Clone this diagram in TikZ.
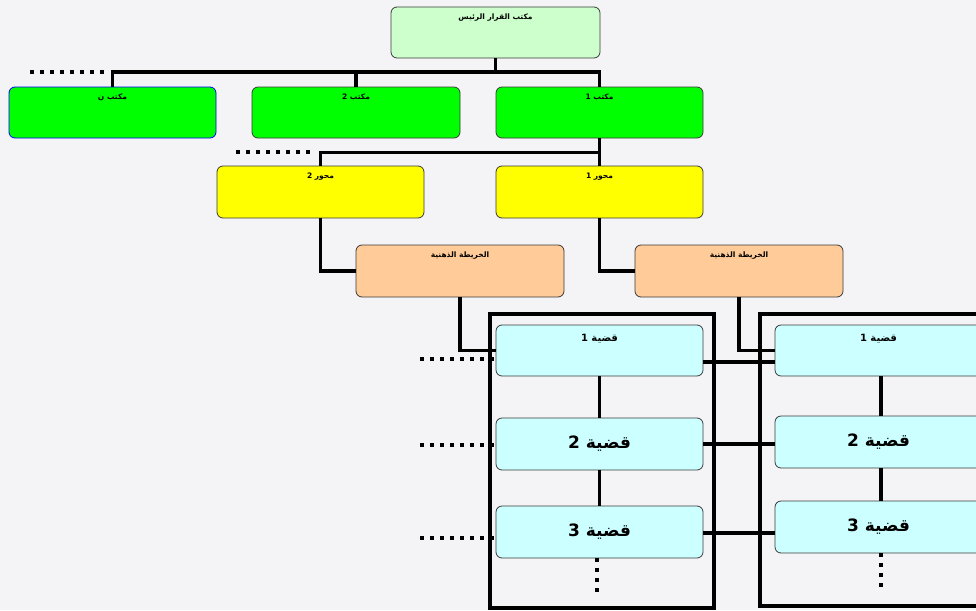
\documentclass[tikz,border=0pt]{standalone}
\usepackage{fontspec}
\newfontfamily\arabicfont[Script=Arabic]{DejaVu Sans}
\TeXXeTstate=1
\usetikzlibrary{calc}
\newcommand{\artext}[1]{{\arabicfont\bfseries #1}}

\definecolor{bg}{HTML}{F4F4F6}
\definecolor{boxline}{HTML}{3A3A3A}
\definecolor{topfill}{HTML}{CCFFCC}
\definecolor{greenfill}{HTML}{00FF00}
\definecolor{yellowfill}{HTML}{FFFF00}
\definecolor{orangefill}{HTML}{FFCC99}
\definecolor{cyanfill}{HTML}{CCFFFF}

\tikzset{
  box/.style={draw=boxline, line width=0.8pt, rounded corners=6pt,
    minimum width=207pt, minimum height=51pt, inner sep=0pt},
  toplabel/.style={anchor=north, yshift=-7pt, inner sep=0pt, font=\fontsize{7.5}{8}\selectfont},
  midlabel/.style={anchor=north, yshift=-9pt, inner sep=0pt, font=\fontsize{10}{12}\selectfont},
  link/.style={line width=3.5pt},
  frame/.style={line width=3.5pt},
  dotline/.style={line width=3.5pt, dash pattern=on 3.5pt off 6.5pt},
  bigtext/.style={font=\fontsize{17}{20}\selectfont}
}

\begin{document}
\begin{tikzpicture}[x=1pt, y=-1pt]
  \fill[bg] (0,0) rectangle (976,610);
  \useasboundingbox (0,0) rectangle (976,610);
  \clip (0,0) rectangle (976,610);

  % outer frames of the two issue columns
  \draw[frame] (490,314) rectangle (714,608);
  \draw[frame] (760,314) rectangle (990,606);

  % head office
  \node[box, fill=topfill, minimum width=209pt] (top) at (495.5,32.5)
    [label={[toplabel]north:\artext{\beginR مكتب القرار الرئيس\endR}}] {};

  % offices
  \node[box, fill=greenfill, draw=blue] (g3) at (112.5,112.5)
    [label={[toplabel]north:\artext{\beginR مكتب ن\endR}}] {};
  \node[box, fill=greenfill, minimum width=208pt] (g2) at (356,112.5)
    [label={[toplabel]north:\artext{\beginR مكتب 2\endR}}] {};
  \node[box, fill=greenfill] (g1) at (599.5,112.5)
    [label={[toplabel]north:\artext{\beginR مكتب 1\endR}}] {};

  % axes
  \node[box, fill=yellowfill, minimum height=52pt] (y2) at (320.5,192)
    [label={[toplabel]north:\artext{\beginR محور 2\endR}}] {};
  \node[box, fill=yellowfill, minimum height=52pt] (y1) at (599.5,192)
    [label={[toplabel]north:\artext{\beginR محور 1\endR}}] {};

  % mind maps
  \node[box, fill=orangefill, minimum width=208pt, minimum height=52pt] (o2) at (460,271)
    [label={[toplabel]north:\artext{\beginR الخريطة الذهنية\endR}}] {};
  \node[box, fill=orangefill, minimum width=208pt, minimum height=52pt] (o1) at (739,271)
    [label={[toplabel]north:\artext{\beginR الخريطة الذهنية\endR}}] {};

  % issues, left column
  \node[box, fill=cyanfill] (c1l) at (599.5,350.5)
    [label={[midlabel]north:\artext{\beginR قضية 1\endR}}] {};
  \node[box, fill=cyanfill, minimum height=52pt, bigtext] (c2l) at (599.5,444) {\artext{\beginR قضية 2\endR}};
  \node[box, fill=cyanfill, minimum height=52pt, bigtext] (c3l) at (599.5,532) {\artext{\beginR قضية 3\endR}};

  % issues, right column
  \node[box, fill=cyanfill] (c1r) at (878.5,350.5)
    [label={[midlabel]north:\artext{\beginR قضية 1\endR}}] {};
  \node[box, fill=cyanfill, minimum height=52pt, bigtext] (c2r) at (878.5,442) {\artext{\beginR قضية 2\endR}};
  \node[box, fill=cyanfill, minimum height=52pt, bigtext] (c3r) at (878.5,527) {\artext{\beginR قضية 3\endR}};

  % head office to offices
  \coordinate (bus) at (495.5,72);
  \draw[link] (top.south) -- (bus);
  \draw[link] (g3.north) -- (g3.north |- bus) -- (g1.north |- bus) -- (g1.north);
  \draw[link] (g2.north) -- (g2.north |- bus);
  \coordinate (busdotA) at (30,72);
  \coordinate (busdotB) at (108,72);
  \draw[dotline] (busdotA) -- (busdotB);

  % office 1 to axes
  \draw[link] (g1.south) -- (y1.north);
  \draw[link] (g1.south) -- ++(0,14) -| (y2.north);
  \coordinate (axdotA) at (236,152);
  \coordinate (axdotB) at (310,152);
  \draw[dotline] (axdotA) -- (axdotB);

  % axes to mind maps
  \draw[link] (y2.south) |- (o2.west);
  \draw[link] (y1.south) |- (o1.west);

  % mind maps to first issues
  \draw[link] (o2.south) |- (c1l.west);
  \draw[link] (o1.south) |- (c1r.west);

  % chains of issues
  \draw[link] (c1l.south) -- (c2l.north);
  \draw[link] (c2l.south) -- (c3l.north);
  \draw[link] ([xshift=2.5pt]c1r.south) -- ([xshift=2.5pt]c2r.north);
  \draw[link] ([xshift=2.5pt]c2r.south) -- ([xshift=2.5pt]c3r.north);
  \draw[dotline] ([xshift=-2.5pt]c3l.south) -- ++(0,34);
  \draw[dotline] ([xshift=2.5pt]c3r.south) -- ++(0,40);

  % links across the columns
  \draw[link] ([yshift=-11.5pt]c1l.east) -- ([yshift=-11.5pt]c1l.east -| c1r.west);
  \draw[link] (c2l.east) -- (c2l.east -| c2r.west);
  \draw[link] ([yshift=-1pt]c3l.east) -- ([yshift=-1pt]c3l.east -| c3r.west);

  % open ends to the left of the issues
  \coordinate (d1a) at (420,359);
  \coordinate (d2a) at (420,445);
  \coordinate (d3a) at (420,538);
  \draw[dotline] (d1a) -- (d1a -| c1l.west);
  \draw[dotline] (d2a) -- (d2a -| c2l.west);
  \draw[dotline] (d3a) -- (d3a -| c3l.west);
\end{tikzpicture}
\end{document}
